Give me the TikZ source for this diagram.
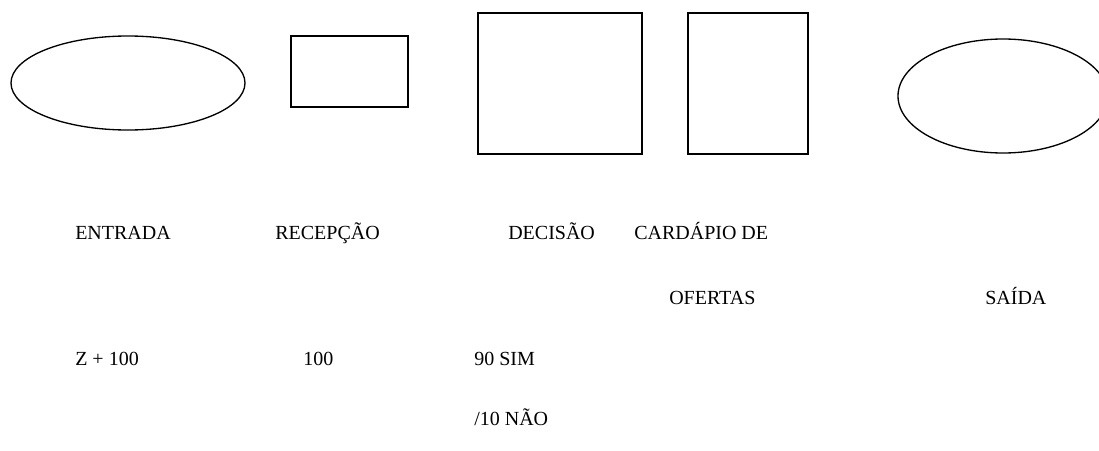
\documentclass[tikz,border=0pt]{standalone}
\usepackage{fontspec}
\setmainfont{Liberation Serif}
\usetikzlibrary{shapes.geometric}
\tikzset{
  shapeline/.style={draw=black, line width=1pt, inner sep=0pt, fill=none},
  oval/.style={shapeline, ellipse},
  boxshape/.style={shapeline, rectangle},
  lbl/.style={anchor=base west, inner sep=0pt, font=\fontsize{15}{18}\selectfont}
}
\begin{document}
\begin{tikzpicture}[x=0.75pt,y=-0.75pt]
\useasboundingbox (0,0) rectangle (1099,450);
\clip (0,0) rectangle (1099,450);
\fill[white] (0,0) rectangle (1099,450);
% shapes
\node[oval, minimum width=234*0.75pt, minimum height=94*0.75pt] (entradaShape) at (128,83) {};
\node[boxshape, minimum width=117*0.75pt, minimum height=71*0.75pt] (recepcaoShape) at (349.5,71.5) {};
\node[boxshape, minimum width=164*0.75pt, minimum height=141*0.75pt] (decisaoShape) at (560,83.5) {};
\node[boxshape, minimum width=120*0.75pt, minimum height=141*0.75pt] (cardapioShape) at (748,83.5) {};
\node[oval, minimum width=210*0.75pt, minimum height=114*0.75pt] (saidaShape) at (1003,96) {};
% labels
\node[lbl] (entrada) at (75,239) {ENTRADA};
\node[lbl] (recepcao) at (275,239) {RECEPÇÃO};
\node[lbl] (decisao) at (508,239) {DECISÃO};
\node[lbl] (cardapio) at (634,239) {CARDÁPIO DE};
\node[lbl] (ofertas) at (669,304) {OFERTAS};
\node[lbl] (saida) at (985,304) {SAÍDA};
\node[lbl] (z100) at (75,365) {Z + 100};
\node[lbl] (cem) at (303,365) {100};
\node[lbl] (sim) at (474,365) {90 SIM};
\node[lbl] (nao) at (474,425) {/10 NÃO};
\end{tikzpicture}
\end{document}
